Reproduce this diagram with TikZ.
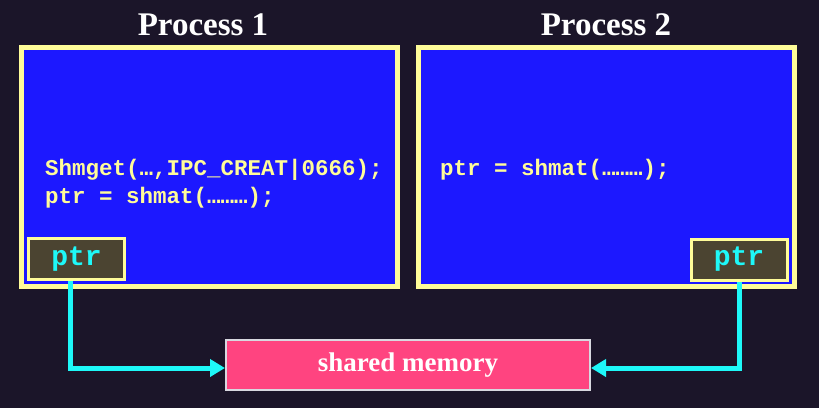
\documentclass[tikz,border=0pt]{standalone}
\usepackage{fontspec}
\setmainfont{Liberation Serif}
\newfontfamily\codefont{Liberation Mono}
\usepackage{xcolor}
\usetikzlibrary{arrows.meta}

\definecolor{bgdark}{RGB}{27,21,41}
\definecolor{procblue}{RGB}{28,24,255}
\definecolor{procyellow}{RGB}{255,252,153}
\definecolor{ptrfill}{RGB}{75,68,49}
\definecolor{ptrcyan}{RGB}{30,248,248}
\definecolor{shmpink}{RGB}{255,68,128}
\definecolor{shmborder}{RGB}{216,216,224}

\begin{document}
\begin{tikzpicture}[x=1pt,y=-1pt]
			\tikzstyle{process} = [draw=procyellow, fill=procblue, line width=5pt, minimum width=376pt, minimum height=239pt, inner sep=0pt]
			\tikzstyle{title} = [text=white, font=\fontsize{33}{36}\selectfont\bfseries, anchor=base, inner sep=0pt]
			\tikzstyle{code} = [text=procyellow, font=\codefont\fontsize{22.5}{28}\selectfont\bfseries, anchor=base west, inner sep=0pt]
			\tikzstyle{pointer} = [draw=procyellow, fill=ptrfill, line width=3pt, minimum width=96pt, minimum height=41pt, inner sep=0pt, text=ptrcyan, font=\codefont\fontsize{28}{30}\selectfont\bfseries]
			\tikzstyle{memory} = [draw=shmborder, fill=shmpink, line width=2pt, minimum width=364pt, minimum height=50pt, inner sep=0pt, text=white, font=\fontsize{27}{30}\selectfont\bfseries]
			\tikzset{edge/.style = {draw=ptrcyan, line width=5pt, -{Triangle[length=15pt,width=17pt]}}}
			
			\useasboundingbox[fill=bgdark] (0,0) rectangle (819,408);
			
			\node[title](title1) at (203,35) {Process 1};
			\node[title](title2) at (606,35) {Process 2};
			
			\node[process](proc1) at (209.5,167) {};
			\node[process](proc2) at (606,167) {};
			
			\node[code](shmget) at (45,175) {Shmget(…,IPC\_CREAT|0666);};
			\node[code](shmat1) at (45,203) {ptr = shmat(………);};
			\node[code](shmat2) at (440,175) {ptr = shmat(………);};
			
			\node[pointer](ptr1) at (76.5,259) {ptr};
			\node[pointer](ptr2) at (739,259.5) {ptr};
			
			\node[memory](shm) at (408,365) {shared memory};
			\draw[edge]([xshift=-6.5pt]ptr1.south) |- ([yshift=-3pt]shm.west);
			\draw[edge](ptr2.south) |- ([yshift=-3pt]shm.east);
			
\end{tikzpicture}
\end{document}
